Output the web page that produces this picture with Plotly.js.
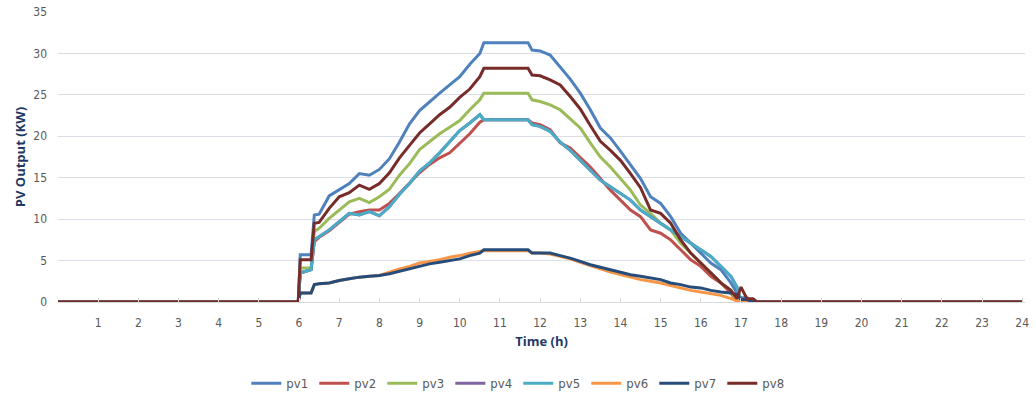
<!DOCTYPE html>
<html>
<head>
<meta charset="utf-8">
<script src="https://cdn.plot.ly/plotly-3.0.1.min.js"></script>
<style>html,body{margin:0;padding:0;background:#fff;}#chart{width:1036px;height:397px;}</style>
</head>
<body>
<div id="chart"></div>
<script>
const hours = [0, 5.98, 6.03, 6.3, 6.38, 6.5, 6.75, 7.0, 7.25, 7.5, 7.75, 8.0, 8.25, 8.5, 8.75, 9.0, 9.25, 9.5, 9.75, 10.0, 10.25, 10.5, 10.6, 11.0, 11.5, 11.7, 11.8, 12.0, 12.25, 12.5, 12.75, 13.0, 13.25, 13.5, 13.75, 14.0, 14.25, 14.5, 14.75, 15.0, 15.25, 15.5, 15.75, 16.0, 16.25, 16.5, 16.75, 16.9, 17.0, 17.15, 17.3, 17.4, 24];

const pv1 = [0, 0, 5.7, 5.7, 10.5, 10.6, 12.8, 13.5, 14.3, 15.5, 15.3, 16.0, 17.3, 19.3, 21.5, 23.1, 24.2, 25.2, 26.2, 27.2, 28.7, 30.0, 31.3, 31.3, 31.3, 31.3, 30.4, 30.3, 29.8, 28.3, 26.9, 25.2, 23.2, 21.0, 19.8, 18.2, 16.6, 14.9, 12.7, 11.9, 10.3, 8.3, 7.1, 5.9, 4.7, 3.9, 2.3, 1.1, 0.5, 0.5, 0, 0, 0];
const pv2 = [0, 0, 3.5, 3.9, 7.3, 7.8, 8.6, 9.6, 10.6, 10.9, 11.1, 11.1, 11.9, 13.1, 14.3, 15.6, 16.6, 17.4, 18.0, 19.1, 20.3, 21.7, 22.0, 22.0, 22.0, 22.0, 21.6, 21.4, 20.8, 19.2, 18.6, 17.5, 16.3, 14.9, 13.5, 12.3, 11.1, 10.3, 8.7, 8.3, 7.5, 6.3, 5.1, 4.3, 3.1, 2.3, 1.1, 0, 0, 0, 0, 0, 0];
const pv3 = [0, 0, 4.1, 4.1, 8.5, 8.9, 10.1, 11.1, 12.1, 12.5, 12.0, 12.7, 13.6, 15.3, 16.7, 18.4, 19.4, 20.3, 21.1, 21.9, 23.2, 24.4, 25.2, 25.2, 25.2, 25.2, 24.4, 24.2, 23.8, 23.2, 22.1, 21.0, 19.2, 17.5, 16.3, 14.9, 13.5, 11.7, 10.7, 9.5, 8.7, 7.1, 5.9, 4.7, 3.5, 2.3, 1.4, 0, 0, 0, 0, 0, 0];
const pv4 = [0, 0, 3.5, 3.9, 7.5, 7.9, 8.7, 9.7, 10.7, 10.5, 10.9, 10.4, 11.5, 13.0, 14.3, 15.8, 16.8, 18.0, 19.3, 20.7, 21.6, 22.6, 22.0, 22.0, 22.0, 22.0, 21.4, 21.2, 20.6, 19.3, 18.3, 17.1, 15.9, 14.7, 13.9, 13.1, 12.3, 11.1, 10.3, 9.5, 8.7, 7.9, 7.1, 6.3, 5.5, 4.3, 3.1, 1.8, 0, 0, 0, 0, 0];
const pv5 = [0, 0, 3.5, 3.9, 7.5, 7.9, 8.7, 9.7, 10.7, 10.5, 10.9, 10.4, 11.5, 13.0, 14.3, 15.8, 16.8, 18.0, 19.3, 20.7, 21.6, 22.6, 22.0, 22.0, 22.0, 22.0, 21.4, 21.2, 20.6, 19.3, 18.3, 17.1, 15.9, 14.7, 13.9, 13.1, 12.3, 11.1, 10.3, 9.5, 8.7, 7.9, 7.1, 6.3, 5.5, 4.3, 3.1, 1.8, 0, 0, 0, 0, 0];
const pv6 = [0, 0, 1.1, 1.1, 2.1, 2.2, 2.3, 2.6, 2.8, 3.0, 3.1, 3.2, 3.6, 4.0, 4.3, 4.7, 4.9, 5.1, 5.4, 5.6, 5.9, 6.1, 6.2, 6.2, 6.2, 6.2, 5.9, 5.9, 5.8, 5.5, 5.2, 4.8, 4.4, 4.0, 3.6, 3.3, 3.0, 2.7, 2.5, 2.3, 2.0, 1.7, 1.4, 1.2, 1.0, 0.8, 0.4, 0.2, 0, 0, 0, 0, 0];
const pv7 = [0, 0, 1.1, 1.1, 2.1, 2.2, 2.3, 2.6, 2.8, 3.0, 3.1, 3.2, 3.4, 3.7, 4.0, 4.3, 4.6, 4.8, 5.0, 5.2, 5.6, 5.9, 6.3, 6.3, 6.3, 6.3, 5.9, 5.9, 5.9, 5.6, 5.3, 4.9, 4.5, 4.2, 3.9, 3.6, 3.3, 3.1, 2.9, 2.7, 2.3, 2.1, 1.8, 1.7, 1.4, 1.2, 1.1, 0.9, 0.3, 0.3, 0, 0, 0];
const pv8 = [0, 0, 5.1, 5.1, 9.5, 9.6, 11.3, 12.7, 13.2, 14.1, 13.6, 14.3, 15.6, 17.4, 18.9, 20.4, 21.5, 22.6, 23.5, 24.7, 25.7, 27.2, 28.2, 28.2, 28.2, 28.2, 27.4, 27.3, 26.8, 26.2, 24.8, 23.3, 21.3, 19.4, 18.3, 17.1, 15.5, 13.8, 11.1, 10.7, 9.5, 7.5, 5.9, 4.7, 3.5, 2.3, 1.4, 0.4, 1.8, 0.4, 0.4, 0, 0];

const seriesNames = ['pv1', 'pv2', 'pv3', 'pv4', 'pv5', 'pv6', 'pv7', 'pv8'];
const seriesValues = [pv1, pv2, pv3, pv4, pv5, pv6, pv7, pv8];
const seriesColors = ['#4F81BD', '#C0504D', '#9BBB59', '#8064A2', '#4BACC6', '#F79646', '#254C7A', '#772C2A'];
const xTickVals = [1,2,3,4,5,6,7,8,9,10,11,12,13,14,15,16,17,18,19,20,21,22,23,24];
const yTickVals = [0,5,10,15,20,25,30,35];

const traces = seriesNames.map((n, i) => ({
  type: 'scatter', mode: 'lines', name: n,
  x: hours, y: seriesValues[i],
  line: {color: seriesColors[i], width: 3}
}));

const tickFont = {family: "'Liberation Sans Narrow', 'DejaVu Sans Condensed', Arial, sans-serif", size: 12, color: '#595959'};
const legendFont = {family: "'Liberation Sans Narrow', 'DejaVu Sans Condensed', Arial, sans-serif", size: 13, color: '#595959'};
const titleFont = {family: "'Open Sans', 'Liberation Sans', Arial, sans-serif", size: 13, color: '#1F3864', weight: 'bold'};

const layout = {
  width: 1036, height: 397,
  margin: {l: 58, r: 11, t: 12, b: 95, autoexpand: false},
  paper_bgcolor: '#ffffff', plot_bgcolor: '#ffffff',
  showlegend: true,
  legend: {orientation: 'h', x: 0.476, xanchor: 'center', y: -0.28, yanchor: 'middle',
           font: legendFont, itemwidth: 30, entrywidth: 23, traceorder: 'normal'},
  xaxis: {
    range: [0, 24.07], tickvals: xTickVals, ticktext: xTickVals.map(String),
    showgrid: false, zeroline: false, showline: true, linecolor: '#D9D9D9', linewidth: 1,
    ticks: 'inside', ticklen: 4, tickcolor: '#D9D9D9',
    tickfont: tickFont, ticklabelstandoff: 10,
    title: {text: 'Time (h)', font: titleFont, standoff: 7}
  },
  yaxis: {
    range: [0, 35], tickvals: yTickVals, showgrid: true, gridcolor: '#D9DEE8', gridwidth: 1,
    zeroline: false, showline: false, ticks: '',
    tickfont: tickFont, ticklabelstandoff: 10,
    title: {text: 'PV Output (KW)', font: titleFont, standoff: 4}
  },
  hovermode: false
};

Plotly.newPlot('chart', traces, layout, {displayModeBar: false, staticPlot: true});
</script>
</body>
</html>
